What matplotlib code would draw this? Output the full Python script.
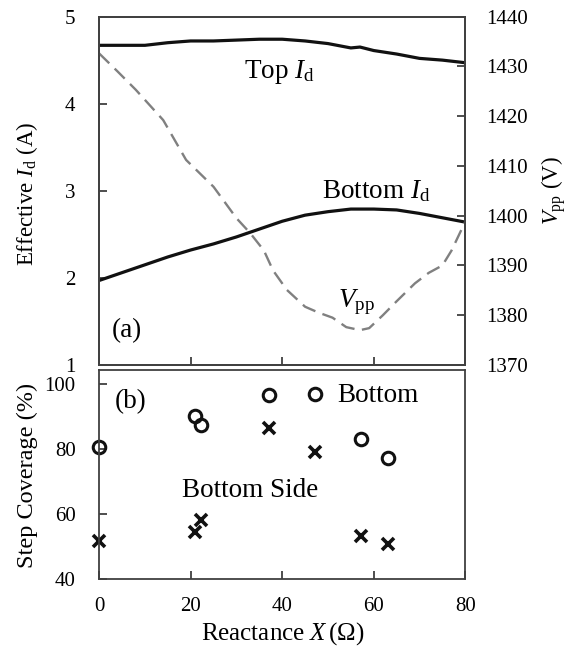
import matplotlib

matplotlib.use("Agg")
import matplotlib.pyplot as plt
import numpy as np

# ── data ─────────────────────────────────────────────────────────────────────

top_x = [0, 5, 10, 15, 20, 25, 30, 35, 40, 45, 50, 55, 57, 60, 65, 70, 75, 80]
top_id = [4.67, 4.67, 4.67, 4.70, 4.72, 4.72, 4.73, 4.74, 4.74, 4.72, 4.69,
          4.64, 4.65, 4.61, 4.57, 4.52, 4.50, 4.47]

bot_x = [0, 5, 10, 15, 20, 25, 30, 35, 40, 45, 50, 55, 60, 65, 70, 75, 80]
bot_id = [1.97, 2.06, 2.15, 2.24, 2.32, 2.39, 2.47, 2.56, 2.65, 2.72, 2.76,
          2.79, 2.79, 2.78, 2.74, 2.69, 2.64]

vpp_x = [0, 4, 8, 14, 19, 25, 30, 33, 36, 38, 41, 45, 48, 51, 54, 57, 59,
         62, 65, 69, 72, 75, 77, 80]
vpp = [1432.6, 1429.0, 1425.3, 1419.2, 1411.2, 1405.8, 1399.5, 1396.5, 1393.0,
       1389.0, 1385.1, 1381.7, 1380.5, 1379.5, 1377.6, 1377.0, 1377.4, 1380.0,
       1382.8, 1386.4, 1388.5, 1390.0, 1393.0, 1398.8]

sc_x = [0, 20.9, 22.3, 37.2, 47.1, 57.3, 63.1]
sc_bottom = [80.6, 90.1, 87.3, 96.5, 96.9, 83.0, 77.3]
sc_side = [51.8, 54.4, 58.2, 86.5, 79.2, 53.4, 50.8]

x_ticks = [0, 20, 40, 60, 80]
id_ticks = [1, 2, 3, 4, 5]
vpp_ticks = [1370, 1380, 1390, 1400, 1410, 1420, 1430, 1440]
sc_ticks = [40, 60, 80, 100]

# ── style ────────────────────────────────────────────────────────────────────

plt.rcParams["font.family"] = ["Liberation Serif", "DejaVu Serif"]
plt.rcParams["mathtext.fontset"] = "custom"
plt.rcParams["mathtext.rm"] = "Liberation Serif"
plt.rcParams["mathtext.it"] = "Liberation Serif:italic"

SPINE = "#404040"
TICK_FS = 15
NOTE_FS = 19.5


def _style_axes(ax):
  for s in ax.spines.values():
    s.set_color(SPINE)
    s.set_linewidth(1.3)
  ax.tick_params(direction="in", length=5.5, width=1.3, color=SPINE,
                 labelsize=TICK_FS)


fig = plt.figure(figsize=(5.73, 6.5), dpi=100)
ax_a = fig.add_axes([0.173, 0.4385, 0.639, 0.536])
ax_b = fig.add_axes([0.173, 0.109, 0.639, 0.322])

# ── (a) currents + Vpp ───────────────────────────────────────────────────────

ax_a.plot(top_x, top_id, color="#111111", lw=2.3, solid_capstyle="butt")
ax_a.plot(bot_x, bot_id, color="#111111", lw=2.3, solid_capstyle="butt")
ax_a.set_xlim(0, 80)
ax_a.set_ylim(1, 5)
ax_a.set_xticks(x_ticks)
ax_a.set_yticks(id_ticks)
_style_axes(ax_a)
ax_a.tick_params(axis="x", labelbottom=False)
ax_a.tick_params(axis="y", pad=17)
ax_a.set_ylabel(r"Effective $I_{\rm d}$ (A)", fontsize=16.5, va="center")
ax_a.yaxis.set_label_coords(-0.198, 0.49)

ax_v = ax_a.twinx()
ax_v.plot(vpp_x, vpp, color="#808080", lw=1.7, linestyle=(0, (6, 3.2)))
ax_v.set_ylim(1370, 1440)
ax_v.set_yticks(vpp_ticks)
_style_axes(ax_v)
ax_v.tick_params(axis="y", pad=15)
ax_v.set_ylabel(r"$V_{\rm pp}$ (V)", fontsize=16.5, rotation=90,
                ha="center", va="center")
ax_v.yaxis.set_label_coords(1.24, 0.5)

ax_a.text(31.7, 4.29, r"Top $I_{\rm d}$", fontsize=NOTE_FS, va="baseline")
ax_a.text(48.7, 2.915, r"Bottom $I_{\rm d}$", fontsize=NOTE_FS, va="baseline")
ax_a.text(52.3, 1.667, r"$V_{\rm pp}$", fontsize=NOTE_FS, va="baseline")
ax_a.text(2.8, 1.32, "(a)", fontsize=NOTE_FS, va="baseline")

# ── (b) step coverage ────────────────────────────────────────────────────────

ax_b.plot(sc_x, sc_bottom, linestyle="none", marker="o", ms=9, mfc="none",
          mec="#111111", mew=2.2, clip_on=False)
ax_b.plot(sc_x, sc_side, linestyle="none", marker="x", ms=9,
          mec="#111111", mew=2.6, clip_on=False)
ax_b.set_xlim(0, 80)
ax_b.set_ylim(40, 104.3)
ax_b.set_xticks(x_ticks)
ax_b.set_yticks(sc_ticks)
_style_axes(ax_b)
ax_b.tick_params(axis="y", pad=17)
ax_b.tick_params(axis="x", pad=13)
ax_b.set_ylabel("Step Coverage (%)", fontsize=17.5, va="center")
ax_b.yaxis.set_label_coords(-0.195, 0.494)
ax_b.set_xlabel(r"Reactance $X\,(\Omega)$", fontsize=18, va="center")
ax_b.xaxis.set_label_coords(0.5, -0.262)

ax_b.text(3.5, 92.65, "(b)", fontsize=NOTE_FS, va="baseline")
ax_b.text(52.1, 94.5, "Bottom", fontsize=NOTE_FS, va="baseline")
ax_b.text(18.2, 65.1, "Bottom Side", fontsize=NOTE_FS, va="baseline")

fig.savefig("out.png", dpi=100)
